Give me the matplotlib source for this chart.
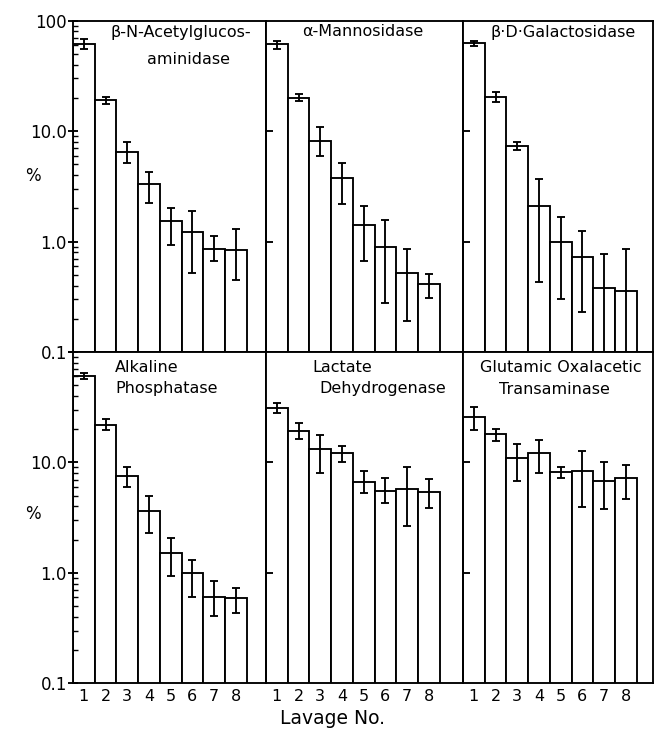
import numpy as np
import matplotlib.pyplot as plt
from matplotlib.ticker import LogLocator, NullFormatter, NullLocator

plt.rcParams['font.family'] = ['DejaVu Sans']

lavage = [1, 2, 3, 4, 5, 6, 7, 8]
lavage_labels = ["1", "2", "3", "4", "5", "6", "7", "8"]

# beta-N-Acetylglucosaminidase
nag_mean = [61, 19.1, 6.5, 3.3, 1.55, 1.23, 0.85, 0.84]
nag_lo = [56, 17.7, 5.1, 2.25, 0.93, 0.52, 0.66, 0.45]
nag_hi = [68, 20.5, 7.9, 4.3, 2.0, 1.88, 1.12, 1.30]

# alpha-Mannosidase
man_mean = [61, 20.1, 8.2, 3.8, 1.42, 0.90, 0.52, 0.41]
man_lo = [55, 18.8, 5.9, 2.2, 0.67, 0.28, 0.19, 0.31]
man_hi = [65.5, 21.9, 10.9, 5.1, 2.1, 1.57, 0.86, 0.51]

# beta-D-Galactosidase
gal_mean = [63, 20.4, 7.4, 2.1, 1.0, 0.72, 0.38, 0.36]
gal_lo = [59, 18.2, 6.8, 0.43, 0.30, 0.23, 0.01, 0.01]
gal_hi = [66, 22.7, 7.9, 3.7, 1.66, 1.24, 0.77, 0.85]

# Alkaline Phosphatase
alp_mean = [60.5, 22, 7.6, 3.64, 1.5, 1.0, 0.61, 0.59]
alp_lo = [56.5, 19.8, 6.05, 2.31, 0.93, 0.61, 0.41, 0.43]
alp_hi = [65, 24.8, 9.0, 4.98, 2.05, 1.32, 0.85, 0.73]

# Lactate Dehydrogenase
ldh_mean = [31.2, 19.4, 13.2, 12.2, 6.7, 5.5, 5.7, 5.4]
ldh_lo = [27.9, 16.3, 8.0, 10.1, 5.3, 4.27, 2.65, 3.85]
ldh_hi = [34.4, 22.6, 17.7, 14.0, 8.3, 7.2, 9.1, 7.05]

# Glutamic Oxalacetic Transaminase
got_mean = [25.6, 18.1, 10.9, 12.2, 8.2, 8.4, 6.8, 7.2]
got_lo = [19.7, 15.7, 6.8, 8.0, 7.3, 3.95, 3.8, 4.7]
got_hi = [31.6, 20.1, 14.7, 16.0, 9.0, 12.8, 10.0, 9.5]

top_ticklabels = ["0.1", "1.0", "10.0", "100"]
bottom_ticklabels = ["0.1", "1.0", "10.0", ""]

W, H = 654, 730
fig = plt.figure(figsize=(W / 100, H / 100), dpi=100)

col_px = [(73, 266), (266, 463), (463, 653)]
row_px = [(20.7, 352), (352, 683.3)]
bar_px = 21.7

panels = [
    (0, 0, nag_mean, nag_lo, nag_hi,
     [("β-N-Acetylglucos-", 110, 33), ("aminidase", 147, 59)]),
    (0, 1, man_mean, man_lo, man_hi,
     [("α-Mannosidase", 302, 32)]),
    (0, 2, gal_mean, gal_lo, gal_hi,
     [("β·D·Galactosidase", 490, 32)]),
    (1, 0, alp_mean, alp_lo, alp_hi,
     [("Alkaline", 115, 367), ("Phosphatase", 115, 389)]),
    (1, 1, ldh_mean, ldh_lo, ldh_hi,
     [("Lactate", 312, 367), ("Dehydrogenase", 319, 389)]),
    (1, 2, got_mean, got_lo, got_hi,
     [("Glutamic Oxalacetic", 480, 367), ("Transaminase", 499, 389)]),
]

lw = 1.35

for row, col, mean, lo, hi, title in panels:
    x0, x1 = col_px[col]
    y0, y1 = row_px[row]
    ax = fig.add_axes([x0 / W, 1 - y1 / H, (x1 - x0) / W, (y1 - y0) / H])
    ax.set_yscale('log')
    mean = np.array(mean)
    err = [mean - np.array(lo), np.array(hi) - mean]
    ax.bar(lavage, mean - 0.05, bottom=0.05, width=1.0,
           facecolor='white', edgecolor='black', linewidth=lw)
    ax.errorbar(lavage, mean, yerr=err, fmt='none', ecolor='black',
                elinewidth=lw, capsize=3, capthick=lw)
    ax.set_xlim(0.5, 0.5 + (x1 - x0) / bar_px)
    ax.set_ylim(0.1, 100)
    for s in ax.spines.values():
        s.set_linewidth(lw)

    if col == 0:
        ax.set_yticks([0.1, 1, 10, 100])
        labels = top_ticklabels if row == 0 else bottom_ticklabels
        ax.set_yticklabels(labels, fontsize=12)
        ax.yaxis.set_minor_locator(LogLocator(base=10, subs=np.arange(2, 10)))
        ax.yaxis.set_minor_formatter(NullFormatter())
        ax.tick_params(axis='y', which='major', direction='inout',
                       length=7, width=lw, pad=1)
        ax.tick_params(axis='y', which='minor', direction='in',
                       length=3.5, width=1)
    else:
        ax.set_yticks([1, 10])
        ax.set_yticklabels([])
        ax.yaxis.set_minor_locator(NullLocator())
        ax.tick_params(axis='y', which='major', direction='in',
                       length=5, width=lw)

    if row == 1:
        ax.set_xticks(lavage)
        ax.set_xticklabels(lavage_labels, fontsize=11.5)
        ax.tick_params(axis='x', length=0, pad=4)
    else:
        ax.set_xticks([])

    for txt, tx, ty in title:
        fig.text(tx / W, 1 - ty / H, txt, fontsize=11.5,
                 ha='left', va='center')

fig.text(33 / W, 1 - 176 / H, "%", fontsize=12, ha='center', va='center')
fig.text(33 / W, 1 - 514 / H, "%", fontsize=12, ha='center', va='center')
fig.text(333 / W, 1 - 719 / H, "Lavage No.", fontsize=13.5,
         ha='center', va='center')

plt.savefig("out.png", dpi=100)
